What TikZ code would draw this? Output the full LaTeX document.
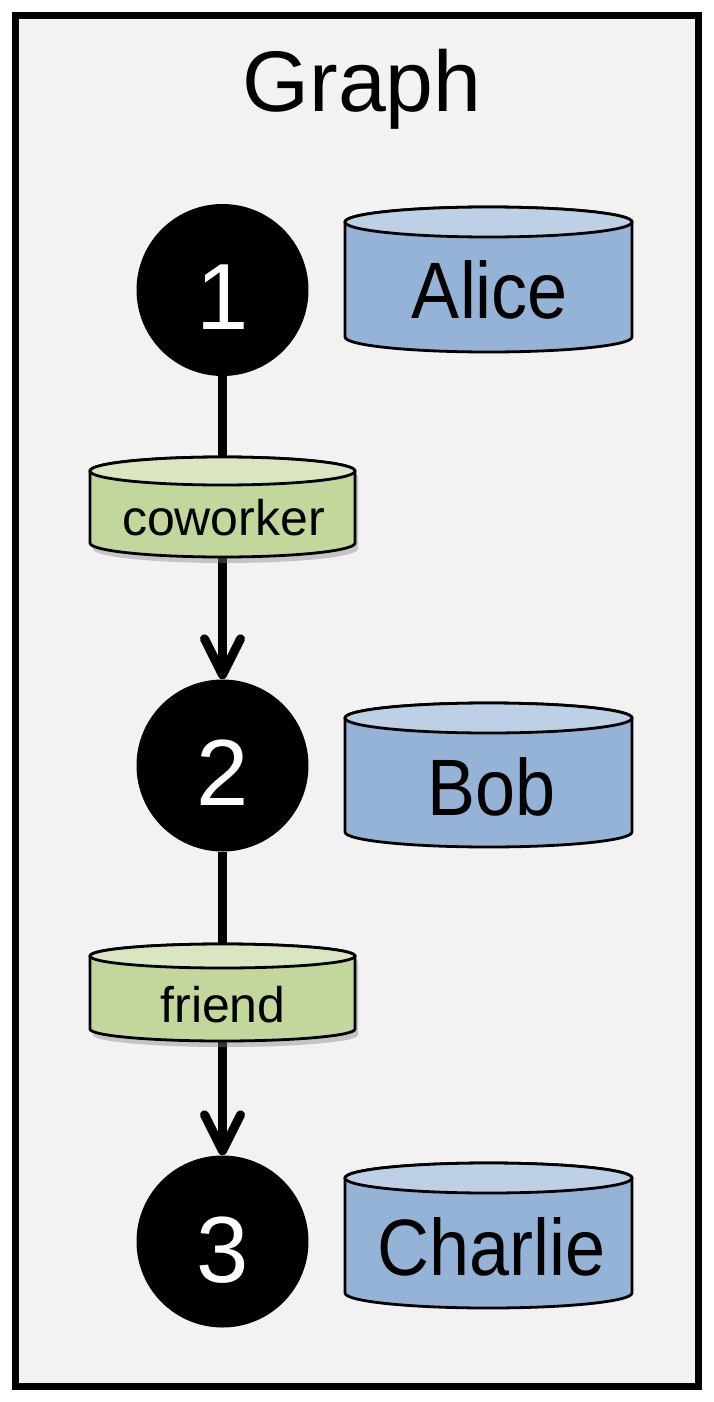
\documentclass[tikz,border=0pt]{standalone}
\usepackage{fontspec}
\setmainfont{Liberation Sans}
\newfontfamily\narrowfont[FakeStretch=0.9]{Liberation Sans}
\usetikzlibrary{arrows.meta,shadows}
\definecolor{bg}{HTML}{F2F2F2}
\definecolor{bluebody}{HTML}{95B3D7}
\definecolor{bluetop}{HTML}{BDD0E6}
\definecolor{greenbody}{HTML}{C3D69B}
\definecolor{greentop}{HTML}{DAE6C2}
\tikzset{
  frame/.style={line width=7pt, draw=black, fill=bg},
  vertex/.style={circle, fill=black, minimum size=172pt, inner sep=0pt},
  digit/.style={anchor=base, text=white, font=\fontsize{94}{94}\selectfont, inner sep=0pt},
  titletext/.style={anchor=base, font=\fontsize{86}{86}\selectfont, inner sep=0pt},
  bluelbl/.style={anchor=base, font=\narrowfont\fontsize{80}{80}\selectfont, inner sep=0pt},
  greenlbl/.style={anchor=base, font=\fontsize{50}{50}\selectfont, inner sep=0pt},
  edge/.style={line width=9pt, -{Straight Barb[length=36pt,width=36pt,round]}},
  cylline/.style={line width=2.8pt, draw=black},
  softshadow/.style={drop shadow={opacity=0.4, shadow xshift=3pt, shadow yshift=-6pt}},
}
% \mycyl{cx}{ytop}{ybot}{rx}{ry}{body}{top}{extra}
\newcommand\mycyl[8]{%
  \path[cylline, fill=#6, #8] (#1-#4,#3) arc[start angle=180, end angle=360, x radius=#4pt, y radius=#5pt]
     -- (#1+#4,#2) arc[start angle=0, end angle=180, x radius=#4pt, y radius=#5pt] -- cycle;
  \path[cylline, fill=#7] (#1,#2) ellipse[x radius=#4pt, y radius=#5pt];
}
\begin{document}
\begin{tikzpicture}[x=1pt, y=-1pt]
\useasboundingbox (0,0) rectangle (713,1402);
\draw[frame] (15.5,15.5) rectangle (698,1386);
\node[titletext] (title) at (362,112) {Graph};
% vertices
\node[vertex] (n1) at (222.5,290) {};
\node[vertex] (n2) at (222.5,765.5) {};
\node[vertex] (n3) at (222.5,1241.5) {};
\node[digit] (d1) at (222.5,329) {1};
\node[digit] (d2) at (222.5,805) {2};
\node[digit] (d3) at (222.5,1282) {3};
% edges
\draw[edge] (n1) -- (n2);
\draw[edge] (n2) -- (n3);
% edge label cylinders
\mycyl{222.5}{471}{543}{132.5}{14}{greenbody}{greentop}{softshadow}
\node[greenlbl] (coworker) at (223.5,535) {coworker};
\mycyl{222.5}{956}{1029}{132.5}{12}{greenbody}{greentop}{softshadow}
\node[greenlbl] (friend) at (223,1022) {friend};
% property cylinders
\mycyl{488.5}{222}{337}{143.5}{15}{bluebody}{bluetop}{}
\node[bluelbl] (alice) at (490,318) {Alice};
\mycyl{488.5}{718}{832}{143.5}{15}{bluebody}{bluetop}{}
\node[bluelbl] (bob) at (491.5,815) {Bob};
\mycyl{488.5}{1178}{1293}{143.5}{15}{bluebody}{bluetop}{}
\node[bluelbl] (charlie) at (491.5,1275) {Charlie};
\end{tikzpicture}
\end{document}
